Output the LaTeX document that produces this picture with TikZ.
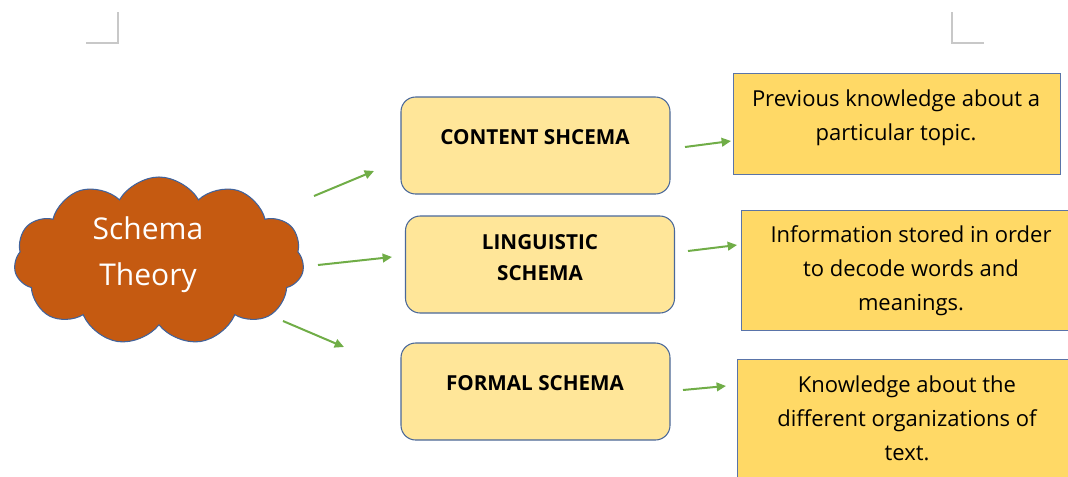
\documentclass[tikz,border=0pt]{standalone}
\usepackage{fontspec}
\setmainfont{Open Sans}
\usetikzlibrary{shapes.symbols,arrows.meta}
\definecolor{cloudfill}{HTML}{C55A11}
\definecolor{cloudline}{HTML}{41639C}
\definecolor{midfill}{HTML}{FFE699}
\definecolor{midline}{HTML}{4A6899}
\definecolor{rfill}{HTML}{FFD966}
\definecolor{rline}{HTML}{5A74A8}
\definecolor{arr}{HTML}{70AD47}
\definecolor{mark}{HTML}{C8C8C8}
\tikzset{
  midbox/.style={draw=midline, line width=0.8pt, fill=midfill, rounded corners=11pt, minimum width=269*0.75pt, minimum height=97*0.75pt, inner sep=0pt},
  rbox/.style={draw=rline, line width=0.8pt, fill=rfill, inner sep=0pt, anchor=north west},
  midtext/.style={font=\bfseries\fontsize{15.5}{23.5}\selectfont, align=center, inner sep=0pt},
  rtext/.style={font=\fontsize{16.5}{25.5}\selectfont, align=center, inner sep=0pt},
  conn/.style={draw=arr, line width=1.5pt, -{Triangle[length=7pt,width=6.5pt]}},
  cropmark/.style={draw=mark, line width=1pt}
}
\begin{document}
\begin{tikzpicture}[x=0.75pt,y=-0.75pt]
\useasboundingbox (0,0) rectangle (1068,476);
\clip (0,0) rectangle (1068,476);
% crop marks
\coordinate (m1a) at (118,12); \coordinate (m1b) at (118,43); \coordinate (m1c) at (86,43);
\coordinate (m2a) at (952,12); \coordinate (m2b) at (952,43); \coordinate (m2c) at (984,43);
\draw[cropmark] (m1a) -- (m1b) -- (m1c);
\draw[cropmark] (m2a) -- (m2b) -- (m2c);
% cloud
\node[cloud, cloud puffs=11, cloud puff arc=120, draw=cloudline, line width=0.8pt, fill=cloudfill,
      minimum width=290*0.75pt, minimum height=168*0.75pt, inner sep=0pt] (cloud) at (159,261) {};
\node[text=white, font=\fontsize{22.5}{34.5}\selectfont, align=center, inner sep=0pt] (ct) at (148,255) {Schema\\Theory};
% middle boxes
\node[midbox] (b1) at (535.5,145.5) {};
\node[midbox] (b2) at (540,264.5) {};
\node[midbox] (b3) at (535.5,391.5) {};
\node[midtext] (t1) at (535,137) {CONTENT SHCEMA};
\node[midtext] (t2) at (540,257.5) {LINGUISTIC\\SCHEMA};
\node[midtext] (t3) at (535,383) {FORMAL SCHEMA};
% right boxes
\node[rbox, minimum width=327*0.75pt, minimum height=101*0.75pt] (ra) at (733,73) {};
\node[rbox, minimum width=340*0.75pt, minimum height=120*0.75pt] (rb) at (741,210) {};
\node[rbox, minimum width=340*0.75pt, minimum height=130*0.75pt] (rc) at (737,359) {};
\node[rtext] (ta) at (896,118) {Previous knowledge about a\\particular topic.};
\node[rtext] (tb) at (911,270.5) {Information stored in order\\to decode words and\\meanings.};
\node[rtext] (tc) at (907,418) {Knowledge about the\\different organizations of\\text.};
% arrows
\coordinate (c1s) at (314,196); \coordinate (c1e) at (374,171);
\coordinate (c2s) at (318,265); \coordinate (c2e) at (392,257);
\coordinate (c3s) at (283,321); \coordinate (c3e) at (344,347);
\coordinate (r1s) at (685,147); \coordinate (r1e) at (731,141);
\coordinate (r2s) at (688,251); \coordinate (r2e) at (737,245);
\coordinate (r3s) at (683,390); \coordinate (r3e) at (726,386);
\draw[conn] (c1s) -- (c1e);
\draw[conn] (c2s) -- (c2e);
\draw[conn] (c3s) -- (c3e);
\draw[conn] (r1s) -- (r1e);
\draw[conn] (r2s) -- (r2e);
\draw[conn] (r3s) -- (r3e);
\end{tikzpicture}
\end{document}
